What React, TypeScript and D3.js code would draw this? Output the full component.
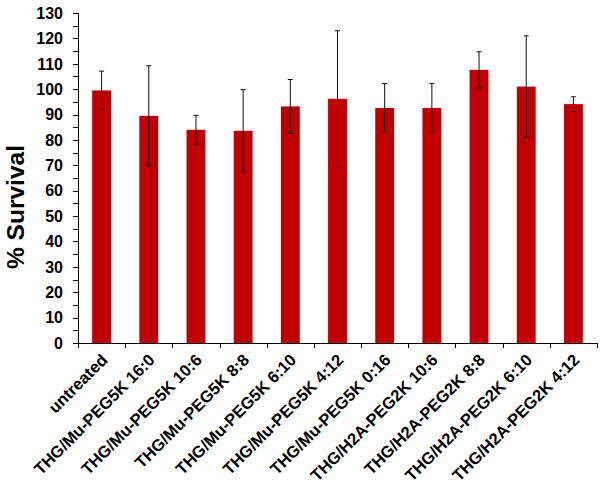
import React from 'react';
import * as d3 from 'd3';

const categories = [
  'untreated',
  'THG/Mu-PEG5K 16:0',
  'THG/Mu-PEG5K 10:6',
  'THG/Mu-PEG5K 8:8',
  'THG/Mu-PEG5K 6:10',
  'THG/Mu-PEG5K 4:12',
  'THG/Mu-PEG5K 0:16',
  'THG/H2A-PEG2K 10:6',
  'THG/H2A-PEG2K 8:8',
  'THG/H2A-PEG2K 6:10',
  'THG/H2A-PEG2K 4:12',
];
const survival = [99.5, 89.5, 84, 83.6, 93.2, 96.2, 92.6, 92.6, 107.6, 101, 94.1];
const errors = [7.6, 19.7, 5.7, 16.2, 10.6, 26.8, 9.6, 9.6, 7.1, 20, 2.9];
const yTicks = d3.range(0, 131, 10);
const yMinorTicks = d3.range(0, 131, 5);

const W = 604;
const H = 486;
const left = 78;
const right = 597;
const top = 13;
const bottom = 343;
const font = 'Arial, "Liberation Sans", sans-serif';

const App = () => {
  const x = d3.scaleBand<string>().domain(categories).range([left, right]).paddingInner(0.6).paddingOuter(0.3);
  const y = d3.scaleLinear().domain([0, 130]).range([bottom, top]);
  const boundaries = d3.range(categories.length + 1).map(i => left + i * ((right - left) / categories.length));

  return (
    <svg width={W} height={H} style={{ position: 'fixed', left: 0, top: 0, background: '#fff' }}>
      {/* bars */}
      {categories.map((c, i) => (
        <rect key={c} x={x(c)} y={y(survival[i])} width={x.bandwidth()} height={y(0) - y(survival[i])} fill="#c00000" />
      ))}
      {/* error bars */}
      {categories.map((c, i) => {
        const cx = (x(c) as number) + x.bandwidth() / 2;
        const hi = y(survival[i] + errors[i]);
        const lo = y(survival[i] - errors[i]);
        return (
          <g key={c} stroke="#111" strokeWidth={1}>
            <line x1={cx} x2={cx} y1={hi} y2={lo} />
            <line x1={cx - 2.5} x2={cx + 2.5} y1={hi} y2={hi} />
            <line x1={cx - 2.5} x2={cx + 2.5} y1={lo} y2={lo} />
          </g>
        );
      })}
      {/* y axis */}
      <g stroke="#000" strokeWidth={1}>
        <line x1={left + 0.5} x2={left + 0.5} y1={top} y2={bottom} />
        {yMinorTicks.map(t => (
          <line key={t} x1={left - 5} x2={left} y1={Math.round(y(t)) + 0.5} y2={Math.round(y(t)) + 0.5} />
        ))}
      </g>
      {yTicks.map(t => (
        <text key={t} x={63} y={y(t)} dy="0.36em" textAnchor="end" fontFamily={font} fontWeight="bold" fontSize={16}>
          {t}
        </text>
      ))}
      {/* x axis */}
      <g stroke="#000" strokeWidth={1}>
        <line x1={left} x2={right} y1={bottom + 0.5} y2={bottom + 0.5} />
        {boundaries.map((b, i) => (
          <line key={i} x1={Math.round(b) + 0.5} x2={Math.round(b) + 0.5} y1={bottom} y2={bottom + 5} />
        ))}
      </g>
      {categories.map(c => {
        const cx = (x(c) as number) + x.bandwidth() / 2;
        return (
          <text
            key={c}
            transform={`translate(${cx + 7},${bottom + 18}) rotate(-45)`}
            textAnchor="end"
            fontFamily={font}
            fontWeight="bold"
            fontSize={16.5}
          >
            {c}
          </text>
        );
      })}
      <text
        transform={`translate(24,${(top + bottom) / 2 + 29}) rotate(-90)`}
        textAnchor="middle"
        fontFamily={font}
        fontWeight="bold"
        fontSize={24.5}
      >
        % Survival
      </text>
    </svg>
  );
};

export default App;
